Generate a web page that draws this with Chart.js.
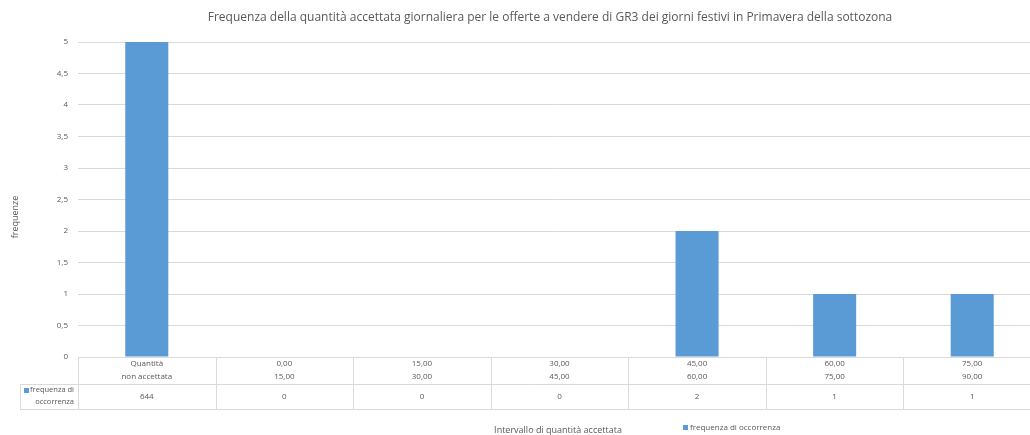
<!DOCTYPE html>
<html>
<head>
<meta charset="utf-8">
<script src="https://cdn.jsdelivr.net/npm/chart.js@4/dist/chart.umd.min.js"></script>
<style>
  html, body { margin: 0; padding: 0; overflow: hidden; background: #fff; }
  #wrap { width: 1041px; height: 435px; }
</style>
</head>
<body>
<div id="wrap"><canvas id="c" width="1041" height="435"></canvas></div>
<script>
const categories = [
  ["Quantità", "non accettata"],
  ["0,00", "15,00"],
  ["15,00", "30,00"],
  ["30,00", "45,00"],
  ["45,00", "60,00"],
  ["60,00", "75,00"],
  ["75,00", "90,00"]
];
const frequenze = [644, 0, 0, 0, 2, 1, 1];
const yTicks = [0, 0.5, 1, 1.5, 2, 2.5, 3, 3.5, 4, 4.5, 5];
const seriesName = "frequenza di occorrenza";
const chartTitle = "Frequenza della quantità accettata giornaliera per le offerte a vendere di GR3 dei giorni festivi in Primavera della sottozona";
const xTitle = "Intervallo di quantità accettata";
const yTitle = "frequenze";

const FONT = "'Open Sans', 'Noto Sans', sans-serif";
const TEXT = "#595959";
const GRID = "#d9d9d9";
const BAR = "#5b9bd5";

const fmt = v => String(v).replace('.', ',');

const extras = {
  id: 'extras',
  afterDraw(chart) {
    const ctx = chart.ctx;
    const ca = chart.chartArea;
    const xs = chart.scales.x;
    const n = categories.length;
    const colW = (ca.right - ca.left) / n;
    const top = ca.bottom;
    const mid = top + 27;
    const bot = top + 52;
    const leftCell = 20;

    ctx.save();
    ctx.strokeStyle = GRID;
    ctx.lineWidth = 1;
    const hl = (x1, x2, y) => { ctx.beginPath(); ctx.moveTo(x1, Math.round(y) + 0.5); ctx.lineTo(x2, Math.round(y) + 0.5); ctx.stroke(); };
    const vl = (x, y1, y2) => { ctx.beginPath(); ctx.moveTo(Math.round(x) + 0.5, y1); ctx.lineTo(Math.round(x) + 0.5, y2); ctx.stroke(); };
    hl(ca.left, ca.right, top);
    hl(leftCell, ca.right, mid);
    hl(leftCell, ca.right, bot);
    for (let i = 0; i <= n; i++) vl(ca.left + i * colW, top, bot);
    vl(leftCell, mid, bot);

    ctx.fillStyle = TEXT;
    ctx.font = "8px " + FONT;
    ctx.textAlign = 'center';
    ctx.textBaseline = 'middle';
    categories.forEach((lab, i) => {
      const cx = xs.getPixelForValue(i);
      ctx.fillText(lab[0], cx, top + 7);
      ctx.fillText(lab[1], cx, top + 20);
      ctx.fillText(String(frequenze[i]), cx, mid + 12.5);
    });
    // legend cell in table
    ctx.textAlign = 'right';
    ctx.font = "7.5px " + FONT;
    ctx.fillText("frequenza di", ca.left - 4, mid + 6);
    ctx.fillText("occorrenza", ca.left - 4, mid + 18);
    ctx.fillStyle = BAR;
    ctx.fillRect(24, mid + 4, 5, 5);

    // title
    ctx.fillStyle = TEXT;
    ctx.font = "12px " + FONT;
    ctx.textAlign = 'center';
    ctx.fillText(chartTitle, 550, 18);

    // x title
    ctx.font = "9px " + FONT;
    ctx.fillText(xTitle, 558, 430);

    // bottom legend
    ctx.textAlign = 'left';
    ctx.fillStyle = BAR;
    ctx.fillRect(683, 425, 5, 5);
    ctx.fillStyle = TEXT;
    ctx.font = "8px " + FONT;
    ctx.fillText(seriesName, 690, 428);

    // y title
    ctx.translate(15, 217);
    ctx.rotate(-Math.PI / 2);
    ctx.textAlign = 'center';
    ctx.font = "9px " + FONT;
    ctx.fillText(yTitle, 0, 0);
    ctx.restore();
  }
};

new Chart(document.getElementById('c'), {
  type: 'bar',
  data: {
    labels: categories,
    datasets: [{
      label: seriesName,
      data: frequenze,
      backgroundColor: BAR,
      borderWidth: 0,
      barPercentage: 1,
      categoryPercentage: 0.313,
      clip: 0
    }]
  },
  options: {
    responsive: false,
    animation: false,
    events: [],
    layout: { padding: { top: 42, bottom: 78, left: 0, right: 0 } },
    plugins: { legend: { display: false }, title: { display: false }, tooltip: { enabled: false } },
    scales: {
      x: { display: false, offset: true },
      y: {
        min: 0, max: 5,
        afterBuildTicks: s => { s.ticks = yTicks.map(v => ({ value: v })); },
        afterFit: s => { s.width = 78; },
        ticks: { color: TEXT, font: { size: 8, family: FONT }, padding: 10, callback: v => fmt(v) },
        grid: { color: GRID, drawTicks: false },
        border: { display: false }
      }
    }
  },
  plugins: [extras]
});
</script>
</body>
</html>
